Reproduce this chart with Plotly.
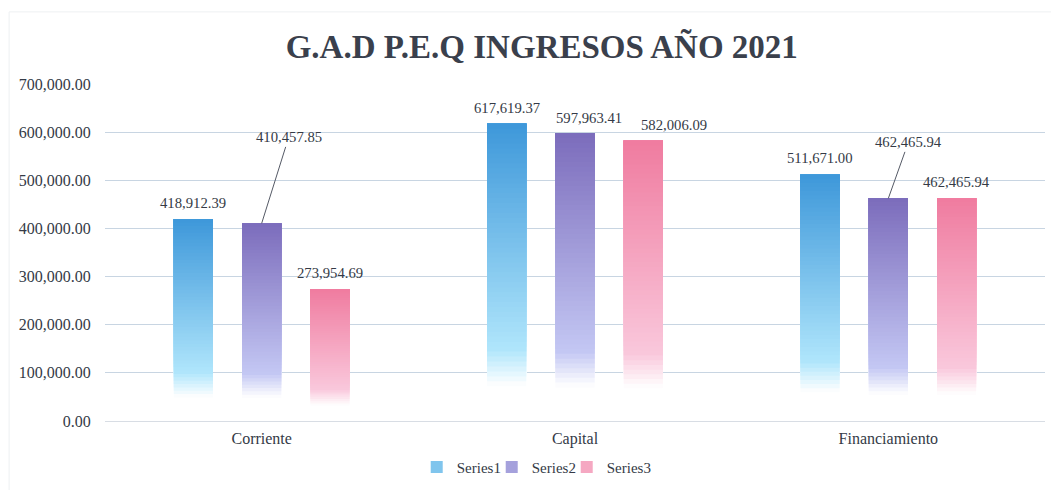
import plotly.graph_objects as go

# ---- data ----
categories = ["Corriente", "Capital", "Financiamiento"]
series_names = ["Series1", "Series2", "Series3"]
series1 = [418912.39, 617619.37, 511671.00]
series2 = [410457.85, 597963.41, 462465.94]
series3 = [273954.69, 582006.09, 462465.94]
y_ticks = [0, 100000, 200000, 300000, 400000, 500000, 600000, 700000]
title_text = "G.A.D P.E.Q INGRESOS AÑO 2021"

# ---- styles ----
series_values = [series1, series2, series3]
top_colors = [(62, 152, 218), (124, 108, 188), (240, 124, 160)]
light_colors = [(176, 230, 252), (196, 200, 244), (250, 200, 220)]
legend_widths = [30, 30, 52]
N_SEG = 60
BARGAP = 0.346
BARGROUPGAP = 0.426
FONT = "Liberation Serif"
TXT = "#343a46"

# label offsets in pixels (dx, dy, leader line)
label_style = [
    [(0, 16, False), (27, 86, True), (0, 16, False)],
    [(0, 16, False), (14, 15, False), (31, 16, False)],
    [(0, 17, False), (20, 56, True), (0, 16, False)],
]


def seg_color(j, t):
    a0, a1 = 0.12, 0.24
    top, light = top_colors[j], light_colors[j]
    if t >= a1:
        s = (t - a1) / (1 - a1)
        c = [light[k] + (top[k] - light[k]) * s for k in range(3)]
    else:
        w = max(0.0, min(1.0, (t - a0) / (a1 - a0)))
        c = [255 + (light[k] - 255) * w for k in range(3)]
    return "rgb(%d,%d,%d)" % (c[0], c[1], c[2])


fig = go.Figure()
for j, (name, vals) in enumerate(zip(series_names, series_values)):
    for k in range(N_SEG):
        t = (k + 0.5) / N_SEG
        # each segment reaches the bar top; later segments cover the upper part
        fig.add_trace(go.Bar(
            x=categories,
            y=[v * (1 - k / N_SEG) for v in vals],
            base=[v * k / N_SEG for v in vals],
            name=name,
            offsetgroup=name,
            legendgroup=name,
            legendwidth=legend_widths[j],
            showlegend=(k == int(N_SEG * 0.55)),
            marker=dict(color=seg_color(j, t), line=dict(width=0)),
            hoverinfo="skip",
        ))

slot = (1 - BARGAP) / 3
annotations = []
for i, cat in enumerate(categories):
    for j, vals in enumerate(series_values):
        dx, dy, line = label_style[i][j]
        xpos = i + (j - 1) * slot
        txt = "{:,.2f}".format(vals[i])
        if line:
            annotations.append(dict(
                x=xpos, y=vals[i], xref="x", yref="y", text=txt,
                showarrow=True, arrowhead=0, arrowwidth=1, arrowcolor="#555a66",
                ax=dx, ay=-dy, standoff=0,
                font=dict(family=FONT, size=14.7, color=TXT),
            ))
        else:
            annotations.append(dict(
                x=xpos, y=vals[i], xref="x", yref="y", text=txt,
                showarrow=False, xshift=dx, yshift=dy,
                font=dict(family=FONT, size=14.7, color=TXT),
            ))

fig.update_layout(
    width=1059, height=490,
    margin=dict(l=97, r=22, t=76, b=77, autoexpand=False),
    paper_bgcolor="white", plot_bgcolor="white",
    barmode="group", bargap=BARGAP, bargroupgap=BARGROUPGAP,
    title=dict(text="<b>" + title_text + "</b>", x=0.504, xanchor="center",
               y=1 - 38 / 490, yanchor="middle",
               font=dict(family=FONT, size=33, color="#3a404c")),
    font=dict(family=FONT, size=15, color=TXT),
    xaxis=dict(type="category", categoryorder="array", categoryarray=categories,
               showgrid=False, showline=False,
               ticks="outside", ticklen=3, tickcolor="rgba(0,0,0,0)",
               tickfont=dict(family=FONT, size=16, color=TXT)),
    yaxis=dict(range=[0, 700000], tickvals=y_ticks, tickformat=",.2f",
               showgrid=True, gridcolor="#c8d5e2", gridwidth=1,
               zeroline=True, zerolinecolor="#d8dde4", zerolinewidth=1,
               ticks="outside", ticklen=10, tickcolor="rgba(0,0,0,0)", showline=False,
               tickfont=dict(family=FONT, size=16, color=TXT)),
    legend=dict(orientation="h", x=0.463, xanchor="center", y=-0.137, yanchor="middle",
                font=dict(family=FONT, size=15, color=TXT),
                itemwidth=30, traceorder="normal"),
    annotations=annotations,
    shapes=[dict(type="rect", xref="paper", yref="paper",
                 x0=-0.102, x1=1.03, y0=-0.21, y1=1.214,
                 line=dict(color="#eef0f2", width=1))],
)

fig.write_html("out.html")
